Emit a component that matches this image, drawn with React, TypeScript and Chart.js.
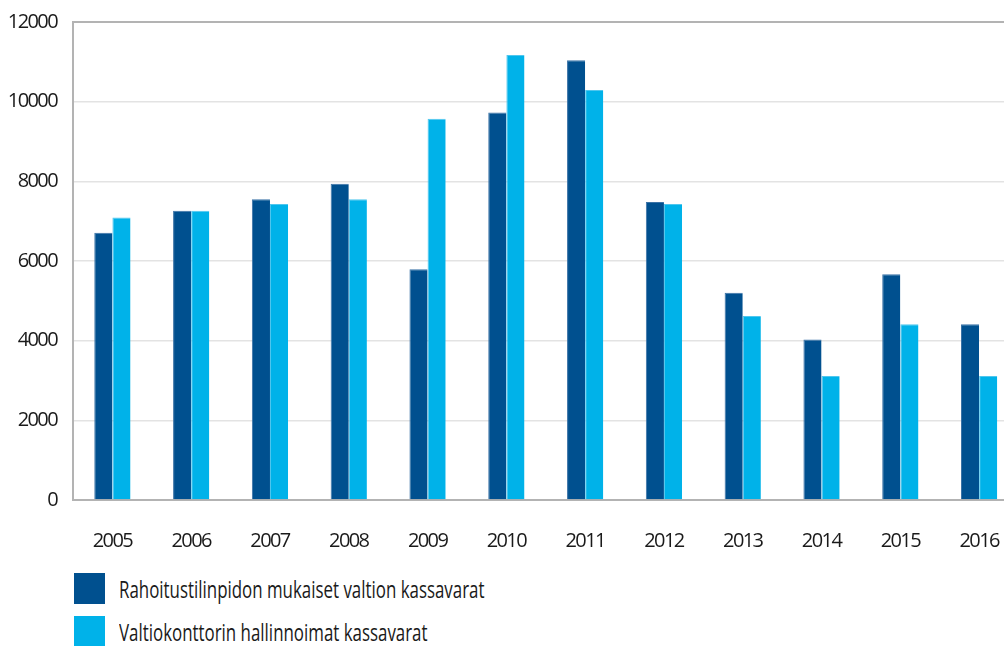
import React, { useEffect, useRef } from "react";
import { Chart, registerables } from "chart.js";

Chart.register(...registerables);

const years = ["2005", "2006", "2007", "2008", "2009", "2010", "2011", "2012", "2013", "2014", "2015", "2016"];
const rahoitus = [6710, 7260, 7550, 7940, 5790, 9730, 11040, 7480, 5200, 4030, 5670, 4410];
const valtiokonttori = [7090, 7260, 7430, 7550, 9570, 11170, 10290, 7430, 4620, 3110, 4410, 3110];
const seriesLabels = ["Rahoitustilinpidon mukaiset valtion kassavarat", "Valtiokonttorin hallinnoimat kassavarat"];
const seriesColors = ["#00508f", "#00b2e9"];
const borderColors = ["#3a72a6", "#4fc6ee"];
const yTicks = [0, 2000, 4000, 6000, 8000, 10000, 12000];

const FONT = "'Open Sans', sans-serif";

const spacingPlugin = {
  id: "narrowText",
  beforeDraw(chart: any) {
    chart.ctx.letterSpacing = "-1.6px";
  },
};

export default function App() {
  const ref = useRef<HTMLCanvasElement | null>(null);
  useEffect(() => {
    if (!ref.current) return;
    const chart = new Chart(ref.current, {
      type: "bar",
      data: {
        labels: years,
        datasets: [
          {
            label: seriesLabels[0],
            data: rahoitus,
            backgroundColor: seriesColors[0],
            borderColor: borderColors[0],
            borderWidth: { top: 1, left: 1, right: 0, bottom: 0 },
            categoryPercentage: 0.46,
            barPercentage: 1,
          },
          {
            label: seriesLabels[1],
            data: valtiokonttori,
            backgroundColor: seriesColors[1],
            borderColor: borderColors[1],
            borderWidth: { top: 1, left: 1, right: 0, bottom: 0 },
            categoryPercentage: 0.46,
            barPercentage: 1,
          },
        ],
      },
      plugins: [spacingPlugin],
      options: {
        animation: false,
        responsive: false,
        maintainAspectRatio: false,
        layout: { padding: { top: 21, right: 0, left: 0, bottom: 0 } },
        plugins: { legend: { display: false }, tooltip: { enabled: false } },
        scales: {
          x: {
            afterFit: (scale: any) => {
              scale.height = 54;
            },
            grid: { display: false, drawTicks: false },
            border: { color: "#b3b3b3", width: 2 },
            ticks: { color: "#1a1a1a", font: { family: FONT, size: 20 }, padding: 29, maxRotation: 0 },
          },
          y: {
            min: 0,
            max: 12000,
            afterBuildTicks: (scale: any) => {
              scale.ticks = yTicks.map((v) => ({ value: v }));
            },
            afterFit: (scale: any) => {
              scale.width = 73;
            },
            grid: {
              color: (ctx: any) => (ctx.tick && ctx.tick.value === 12000 ? "#b3b3b3" : "#e3e3e3"),
              lineWidth: (ctx: any) => (ctx.tick && ctx.tick.value === 12000 ? 2 : 1.5),
              drawTicks: false,
            },
            border: { color: "#b3b3b3", width: 2 },
            ticks: {
              color: "#1a1a1a",
              font: { family: FONT, size: 20 },
              padding: 16,
              callback: (v: any) => String(v),
            },
          },
        },
      },
    });
    return () => chart.destroy();
  }, []);

  return (
    <div style={{ position: "fixed", left: 0, top: 0, width: 1004, height: 646, overflow: "hidden", background: "#fff" }}>
      <canvas ref={ref} width={1031} height={560} style={{ position: "absolute", left: 0, top: -6, width: 1031, height: 560 }} />
      {seriesLabels.map((l, i) => (
        <div key={l} style={{ position: "absolute", left: 74, top: 573 + i * 43, height: 31, display: "flex", alignItems: "center" }}>
          <div style={{ width: 31, height: 31, background: seriesColors[i], flex: "none" }} />
          <span
            style={{
              marginLeft: 14,
              fontFamily: FONT,
              fontSize: 23,
              color: "#1a1a1a",
              whiteSpace: "nowrap",
              display: "inline-block",
              transform: "scaleX(0.734)",
              transformOrigin: "left center",
            }}
          >
            {l}
          </span>
        </div>
      ))}
    </div>
  );
}
